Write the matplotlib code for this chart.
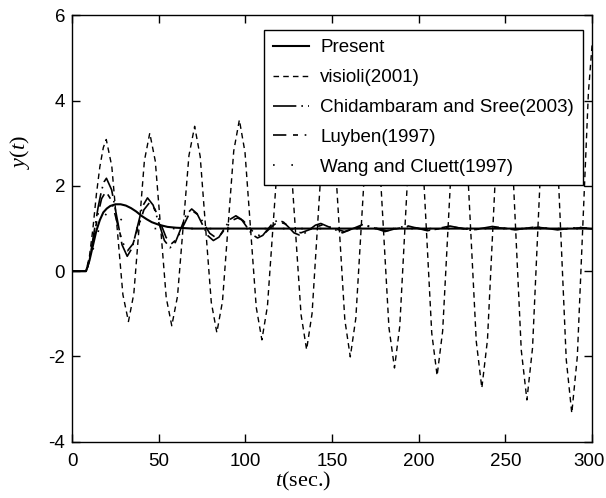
import matplotlib
matplotlib.use('Agg')
import matplotlib.pyplot as plt
import matplotlib.transforms as mtransforms

# Tick / legend font (MATLAB style sans), labels in Times
plt.rcParams['font.family'] = ['Liberation Sans', 'DejaVu Sans']
plt.rcParams['axes.unicode_minus'] = False
plt.rcParams['mathtext.fontset'] = 'custom'
plt.rcParams['mathtext.it'] = 'Liberation Serif:italic'
plt.rcParams['mathtext.rm'] = 'Liberation Serif'

# ----------- Data --------------------------------------------
# Present (solid)
t_present = [0, 8, 10, 12, 14, 16, 18, 20, 22, 25, 28, 31, 34, 37, 40, 43, 46,
             50, 55, 60, 70, 300]
y_present = [0, 0, 0.25, 0.6, 0.95, 1.2, 1.38, 1.47, 1.53, 1.57, 1.57, 1.54,
             1.48, 1.4, 1.3, 1.22, 1.15, 1.09, 1.04, 1.02, 1.0, 1.0]

# visioli(2001) (dashed, growing oscillation)
t_visioli = [0, 8, 10, 12, 14, 16, 18, 19.7,
             22.9, 26.1, 29.3, 32.5, 35.6, 38.65, 41.7, 44.8,
             48.0, 51.15, 54.3, 57.5, 60.8, 64.1, 67.4, 70.7,
             73.9, 77.1, 80.3, 83.5, 86.75, 90.0, 93.25, 96.5,
             99.75, 103.0, 106.25, 109.5, 112.7, 115.95, 119.2, 122.4,
             125.6, 128.85, 132.1, 135.3, 138.45, 141.6, 144.75, 147.9,
             151.05, 154.2, 157.35, 160.5, 163.7, 166.9, 170.1, 173.3,
             176.5, 179.65, 182.8, 186.0, 189.05, 192.1, 195.15, 198.2,
             201.3, 204.4, 207.5, 210.6, 213.8, 217.05, 220.3, 223.5,
             226.7, 229.95, 233.2, 236.4, 239.65, 242.9, 246.15, 249.4,
             252.65, 255.9, 259.15, 262.4, 265.65, 268.9, 272.15, 275.4,
             278.6, 281.85, 285.1, 288.3, 291.5, 294.7, 297.9, 300]
y_visioli = [0, 0, 0.35, 1.0, 1.8, 2.45, 2.9, 3.09,
             2.46, 0.955, -0.55, -1.18, -0.53, 1.03, 2.59, 3.24,
             2.58, 0.98, -0.62, -1.28, -0.59, 1.06, 2.71, 3.40,
             2.69, 0.98, -0.73, -1.44, -0.71, 1.06, 2.82, 3.55,
             2.79, 0.97, -0.85, -1.61, -0.82, 1.07, 2.96, 3.75,
             2.94, 0.96, -1.02, -1.84, -0.99, 1.06, 3.10, 3.95,
             3.08, 0.97, -1.14, -2.01, -1.10, 1.10, 3.29, 4.2,
             3.25, 0.97, -1.32, -2.27, -1.29, 1.07, 3.42, 4.4,
             3.40, 0.98, -1.45, -2.45, -1.40, 1.13, 3.65, 4.7,
             3.61, 0.98, -1.65, -2.74, -1.61, 1.13, 3.87, 5.0,
             3.83, 0.99, -1.85, -3.02, -1.80, 1.14, 4.08, 5.3,
             4.04, 0.99, -2.07, -3.33, -2.0, 1.1, 4.2, 5.3]

# Chidambaram and Sree(2003)
t_chid = [0, 8, 9, 11, 13, 15, 17, 18.5, 19.8,
          22.8, 25.8, 28.8, 31.8, 34.7, 37.65, 40.6, 43.5,
          46.75, 50, 53.25, 56.5, 59.6, 62.75, 65.9, 69,
          72.1, 75.25, 78.4, 81.5, 84.75, 88, 91.25, 94.5,
          97.6, 100.75, 103.9, 107, 110, 113, 116, 119,
          122, 125, 128, 131, 134.1, 137.25, 140.4, 143.5,
          149.75, 156, 162, 168, 174.25, 180.5, 186.75, 193,
          199, 205, 211.5, 218, 224, 230, 236.25, 242.5,
          249, 255.5, 261.5, 267.5, 273.75, 280, 286.25, 292.5, 300]
y_chid = [0, 0, 0.1, 0.5, 1.0, 1.5, 1.9, 2.1, 2.18,
          1.91, 1.27, 0.62, 0.35, 0.55, 1.04, 1.52, 1.72,
          1.55, 1.14, 0.72, 0.55, 0.68, 1.0, 1.33, 1.46,
          1.35, 1.09, 0.83, 0.72, 0.80, 1.01, 1.22, 1.3,
          1.22, 1.04, 0.86, 0.78, 0.84, 0.99, 1.14, 1.2,
          1.15, 1.03, 0.90, 0.85, 0.89, 0.985, 1.08, 1.12,
          1.01, 0.9, 1.0, 1.1, 1.015, 0.93, 1.0, 1.07,
          1.01, 0.95, 1.005, 1.06, 1.01, 0.96, 1.005, 1.05,
          1.01, 0.97, 1.005, 1.04, 1.005, 0.97, 1.0, 1.03, 0.99]

# Luyben(1997)
t_luyben = [0, 8, 9, 11, 13, 15, 17, 19.5,
            22.6, 25.75, 28.9, 32, 35.1, 38.25, 41.4, 44.5,
            47.75, 51, 54.25, 57.5, 60.6, 63.75, 66.9, 70,
            73.1, 76.25, 79.4, 82.5, 85.75, 89, 92.25, 95.5,
            98.6, 101.75, 104.9, 108, 111, 114, 117, 120,
            123, 126, 129, 132, 138.25, 144.5, 150.75, 157,
            163, 169, 175.25, 181.5, 187.75, 194, 200, 206,
            212.5, 219, 225, 231, 237.25, 243.5, 250, 256.5,
            262.5, 268.5, 274.75, 281, 287.25, 293.5, 300]
y_luyben = [0, 0, 0.1, 0.45, 0.9, 1.35, 1.7, 1.87,
            1.67, 1.18, 0.69, 0.48, 0.64, 1.04, 1.44, 1.6,
            1.46, 1.13, 0.79, 0.65, 0.76, 1.03, 1.29, 1.4,
            1.31, 1.1, 0.89, 0.8, 0.86, 1.03, 1.19, 1.25,
            1.19, 1.05, 0.90, 0.84, 0.885, 1.0, 1.105, 1.15,
            1.11, 1.025, 0.94, 0.9, 0.995, 1.09, 1.01, 0.93,
            1.0, 1.07, 1.01, 0.95, 1.0, 1.05, 1.005, 0.96,
            1.0, 1.04, 1.005, 0.97, 1.0, 1.03, 1.005, 0.98,
            1.005, 1.03, 1.005, 0.98, 1.0, 1.02, 1.0]

# Wang and Cluett(1997)
t_wang = [0, 8, 10, 12, 14, 16, 18, 20, 22, 25, 28, 31, 34, 38, 45, 300]
y_wang = [0, 0, 0.2, 0.5, 0.8, 1.05, 1.25, 1.36, 1.38, 1.32, 1.22, 1.12,
          1.05, 1.01, 1.0, 1.0]

x_ticks = [0, 50, 100, 150, 200, 250, 300]
y_ticks = [-4, -2, 0, 2, 4, 6]

# ----------- Plot ------------------------
fig = plt.figure(figsize=(6.06, 4.98), dpi=100)
ax = fig.add_axes([0.119, 0.113, 0.858, 0.856])

ax.plot(t_present, y_present, color='black', lw=1.5, linestyle='-',
        label='Present', zorder=5)
ax.plot(t_visioli, y_visioli, color='black', lw=1.0, linestyle=(0, (4, 3)),
        label='visioli(2001)')
ax.plot(t_chid, y_chid, color='black', lw=1.2, linestyle=(0, (14, 3, 1, 3)),
        label='Chidambaram and Sree(2003)')
ax.plot(t_luyben, y_luyben, color='black', lw=1.2,
        linestyle=(0, (8, 4, 3, 4, 1, 4)), label='Luyben(1997)')
ax.plot(t_wang, y_wang, color='black', lw=1.2, linestyle=(0, (1, 10)),
        label='Wang and Cluett(1997)')

ax.set_xlim(0, 300)
ax.set_ylim(-4, 6)
ax.set_xticks(x_ticks)
ax.set_yticks(y_ticks)
ax.tick_params(direction='in', length=6, width=1, top=True, right=True,
               labelsize=13.5)
ax.tick_params(axis='x', pad=8)
ax.tick_params(axis='y', pad=5)
for s in ax.spines.values():
    s.set_linewidth(1.0)

# nudge the last x tick label so it stays inside the picture
last = ax.get_xticklabels()[-1]
last.set_transform(last.get_transform() +
                   mtransforms.ScaledTranslation(-3 / 100, 0, fig.dpi_scale_trans))

ax.set_xlabel(r'$\mathit{t}$(sec.)', family='Liberation Serif', fontsize=16)
ax.xaxis.set_label_coords(0.444, -0.066)
ax.set_ylabel(r'$\mathit{y}$($\mathit{t}$)', family='Liberation Serif',
              fontsize=16)
ax.yaxis.set_label_coords(-0.077, 0.68)

leg = ax.legend(loc='upper right', bbox_to_anchor=(0.983, 0.966),
                borderaxespad=0, fancybox=False, framealpha=1,
                edgecolor='black', fontsize=13.5, handlelength=1.9,
                handletextpad=0.6, labelspacing=0.68, borderpad=0.5)
leg.get_frame().set_linewidth(1.0)

fig.savefig('out.png', dpi=100, facecolor='white')
